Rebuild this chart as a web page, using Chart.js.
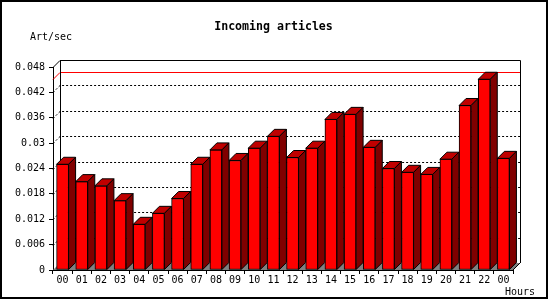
<!DOCTYPE html>
<html>
<head>
<meta charset="utf-8">
<script src="https://cdn.jsdelivr.net/npm/chart.js@4/dist/chart.umd.min.js"></script>
<style>
  html, body { margin: 0; padding: 0; background: #fff; }
  canvas { display: block; }
</style>
</head>
<body>
<canvas id="artChart" width="550" height="300"></canvas>
<script>
// hourly incoming articles (art/sec)
const hours = ['00', '01', '02', '03', '04', '05', '06', '07', '08', '09', '10', '11',
               '12', '13', '14', '15', '16', '17', '18', '19', '20', '21', '22', '00'];
const artPerSec = [0.0250, 0.0209, 0.0199, 0.0164, 0.0108, 0.0134, 0.0169, 0.0250,
                   0.0284, 0.0259, 0.0288, 0.0316, 0.0266, 0.0288, 0.0356, 0.0368,
                   0.0290, 0.0240, 0.0231, 0.0226, 0.0262, 0.0389, 0.0451, 0.0264];
const yMax = 0.048;
const yStep = 0.006;

const D = 7; // fake 3d depth in px
const mono = '"DejaVu Sans Mono", "Liberation Mono", monospace';

function poly(ctx, pts, fill) {
  ctx.beginPath();
  ctx.moveTo(pts[0][0], pts[0][1]);
  for (let i = 1; i < pts.length; i++) ctx.lineTo(pts[i][0], pts[i][1]);
  ctx.closePath();
  ctx.fillStyle = fill;
  ctx.fill();
  ctx.stroke();
}

const threeD = {
  id: 'threeD',
  beforeDatasetsDraw(chart) {
    const { ctx, chartArea: a, scales: { y } } = chart;
    ctx.save();
    // floor
    ctx.fillStyle = '#808080';
    ctx.beginPath();
    ctx.moveTo(a.left, a.bottom);
    ctx.lineTo(a.left + D, a.bottom - D);
    ctx.lineTo(a.right + D, a.bottom - D);
    ctx.lineTo(a.right, a.bottom);
    ctx.closePath();
    ctx.fill();

    ctx.lineWidth = 1;
    ctx.strokeStyle = '#000';
    ctx.setLineDash([2, 2]);
    for (let v = yStep; v < yMax - yStep / 2; v += yStep) {
      const py = Math.round(y.getPixelForValue(v)) + 0.5;
      ctx.beginPath();
      ctx.moveTo(a.left, py);
      ctx.lineTo(a.left + D, py - D);
      ctx.lineTo(a.right + D, py - D);
      ctx.stroke();
    }
    ctx.setLineDash([]);

    // max line
    const my = Math.round(y.getPixelForValue(Math.max(...artPerSec))) + 0.5;
    ctx.strokeStyle = '#ff0000';
    ctx.beginPath();
    ctx.moveTo(a.left, my);
    ctx.lineTo(a.left + D, my - D);
    ctx.lineTo(a.right + D, my - D);
    ctx.stroke();

    // back wall edges
    ctx.strokeStyle = '#000';
    ctx.beginPath();
    ctx.moveTo(a.left, a.top + 0.5);
    ctx.lineTo(a.left + D, a.top - D + 0.5);
    ctx.lineTo(a.right + D + 0.5, a.top - D + 0.5);
    ctx.lineTo(a.right + D + 0.5, a.bottom - D);
    ctx.moveTo(a.left + D + 0.5, a.top - D);
    ctx.lineTo(a.left + D + 0.5, a.bottom - D);
    ctx.moveTo(a.right, a.bottom);
    ctx.lineTo(a.right + D, a.bottom - D);
    ctx.stroke();
    ctx.restore();
  },
  afterDatasetsDraw(chart) {
    const ctx = chart.ctx;
    ctx.save();
    ctx.lineWidth = 1;
    ctx.strokeStyle = '#000';
    chart.getDatasetMeta(0).data.forEach(bar => {
      const { x, y, base, width } = bar.getProps(['x', 'y', 'base', 'width'], true);
      const l = x - width / 2, r = x + width / 2;
      poly(ctx, [[l, y], [l + D, y - D], [r + D, y - D], [r, y]], '#c00000');
      poly(ctx, [[r, y], [r + D, y - D], [r + D, base - D], [r, base]], '#800000');
    });
    ctx.restore();
  },
  afterDraw(chart) {
    const ctx = chart.ctx;
    ctx.save();
    ctx.fillStyle = '#000';
    ctx.textBaseline = 'middle';
    ctx.font = 'bold 11.6px ' + mono;
    ctx.textAlign = 'center';
    ctx.fillText('Incoming articles', 273.5, 27);
    ctx.font = '10px ' + mono;
    ctx.textAlign = 'left';
    ctx.fillText('Art/sec', 30, 37);
    ctx.fillText('Hours', 505, 292);
    // frame
    ctx.fillRect(0, 0, 548, 2);
    ctx.fillRect(0, 0, 2, 299);
    ctx.fillRect(546, 0, 2, 299);
    ctx.fillRect(0, 297, 548, 2);
    ctx.restore();
  }
};

new Chart(document.getElementById('artChart'), {
  type: 'bar',
  data: {
    labels: hours,
    datasets: [{
      data: artPerSec,
      backgroundColor: '#ff0000',
      borderColor: '#000',
      borderWidth: 1,
      borderSkipped: false,
      barThickness: 12
    }]
  },
  options: {
    responsive: false,
    animation: false,
    layout: { padding: { top: 67, right: 37, left: 0, bottom: 0 } },
    plugins: {
      legend: { display: false },
      tooltip: { enabled: false },
      title: { display: false }
    },
    scales: {
      x: {
        grid: { drawOnChartArea: false, offset: true, tickLength: 4, color: '#000' },
        border: { color: '#000' },
        ticks: { color: '#000', font: { family: mono, size: 10 }, padding: 0, maxRotation: 0, autoSkip: false },
        afterFit: s => { s.height = 30; }
      },
      y: {
        min: 0,
        max: yMax,
        grid: { drawOnChartArea: false, tickLength: 4, color: '#000' },
        border: { color: '#000' },
        ticks: {
          stepSize: yStep,
          color: '#000',
          font: { family: mono, size: 10 },
          padding: 4,
          callback: v => String(+v.toFixed(3))
        },
        afterFit: s => { s.width = 53; }
      }
    }
  },
  plugins: [threeD]
});
</script>
</body>
</html>
